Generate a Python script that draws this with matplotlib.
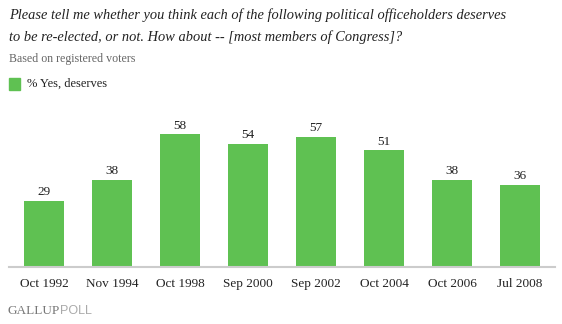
import matplotlib
matplotlib.use("Agg")
import matplotlib.pyplot as plt

categories = ["Oct 1992", "Nov 1994", "Oct 1998", "Sep 2000",
              "Sep 2002", "Oct 2004", "Oct 2006", "Jul 2008"]
yes_deserves = [29, 38, 58, 54, 57, 51, 38, 36]

W, H = 562, 324
fig = plt.figure(figsize=(W / 100, H / 100), dpi=100)

GREEN = "#5fc152"
SERIF = ["Liberation Serif", "DejaVu Serif"]

# plot area in pixel coordinates: x 9..555, baseline at y=267, top at y=110
left, right, top, bottom = 9, 555, 110, 267
ax = fig.add_axes([left / W, 1 - bottom / H, (right - left) / W, (bottom - top) / H])
scale = 2.285  # px per unit
ax.set_ylim(0, (bottom - top) / scale)
ax.set_xlim(-0.515, 7.515)

x = range(len(categories))
bars = ax.bar(x, yes_deserves, width=40 / 68, color=GREEN, zorder=2)
for xi, v in zip(x, yes_deserves):
    ax.annotate(str(v), (xi, v), xytext=(0, 2), textcoords="offset points",
                ha="center", va="bottom", fontsize=9.5, family=SERIF, color="#222222")

for s in ["top", "left", "right"]:
    ax.spines[s].set_visible(False)
ax.spines["bottom"].set_color("#cccccc")
ax.spines["bottom"].set_linewidth(1.5)
ax.set_yticks([])
ax.set_xticks(list(x))
ax.set_xticklabels(categories, family=SERIF, fontsize=9.5, color="#222222")
ax.tick_params(axis="x", length=0, pad=8)

def fx(px):
    return px / W

def fy(py):
    return 1 - py / H

fig.text(fx(9), fy(15), "Please tell me whether you think each of the following political officeholders deserves",
         family=SERIF, style="italic", fontsize=10.35, va="center", ha="left", color="#222222")
fig.text(fx(9), fy(37), "to be re-elected, or not. How about -- [most members of Congress]?",
         family=SERIF, style="italic", fontsize=10.35, va="center", ha="left", color="#222222")
fig.text(fx(9), fy(59), "Based on registered voters",
         family=SERIF, fontsize=8.6, va="center", ha="left", color="#666666")

fig.patches.append(plt.Rectangle((fx(9), fy(90)), 11 / W, 12 / H,
                                 transform=fig.transFigure, color=GREEN))
fig.text(fx(27), fy(84), "% Yes, deserves",
         family=SERIF, fontsize=9, va="center", ha="left", color="#222222")

t1 = fig.text(fx(7), fy(311), "GALLUP", family=SERIF, fontsize=9.5,
              va="center", ha="left", color="#777777")
fig.canvas.draw()
bb = t1.get_window_extent()
fig.text((bb.x1 + 1) / W, fy(311), "POLL", family=["Liberation Sans", "DejaVu Sans"],
         fontsize=9, va="center", ha="left", color="#aaaaaa")

fig.savefig("out.png", dpi=100)
